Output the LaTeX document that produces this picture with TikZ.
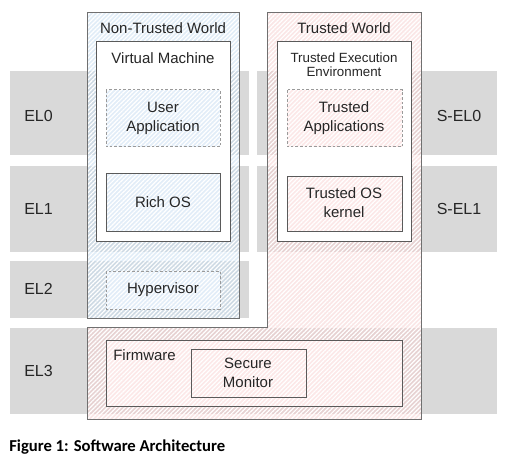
\documentclass[tikz,border=0pt]{standalone}
\usepackage{fontspec}
\setmainfont{Liberation Sans}
\newfontfamily\capfont{Carlito}
\usetikzlibrary{patterns.meta}
\definecolor{band}{HTML}{D9D9D9}
\definecolor{bluebase}{HTML}{C4DBF0}
\definecolor{bluelight}{HTML}{E2EDF8}
\definecolor{pinkbase}{HTML}{F6CDCD}
\definecolor{pinklight}{HTML}{FCE8E8}
\definecolor{edge}{HTML}{707070}
\definecolor{inneredge}{HTML}{5A5A5A}
\definecolor{dashedge}{HTML}{9A9A9A}
\begin{document}
\begin{tikzpicture}[x=0.75pt,y=-0.75pt,
  bandbox/.style={fill=band},
  hatch/.style={postaction={pattern={Lines[angle=45,distance=2.3pt,line width=0.9pt]},pattern color=white,fill opacity=0.65}},
  worldblue/.style={fill=bluebase,fill opacity=0.5,hatch},
  worldpink/.style={fill=pinkbase,fill opacity=0.5,hatch},
  worldedge/.style={draw=edge,line width=0.75pt},
  vmbox/.style={fill=white,draw=inneredge,line width=0.75pt},
  blueinner/.style={fill=bluelight,hatch},
  pinkinner/.style={fill=pinklight,hatch},
  solidedge/.style={draw=inneredge,line width=0.7pt},
  dashedge/.style={draw=dashedge,line width=0.75pt,dash pattern=on 2pt off 1.5pt},
  txt/.style={font=\fontsize{11.25}{14.25}\selectfont,align=center,inner sep=0pt,text=black!85},
  smalltxt/.style={font=\fontsize{10}{10.5}\selectfont,align=center,inner sep=0pt,text=black!85},
  eltxt/.style={font=\fontsize{12}{14}\selectfont,inner sep=0pt,text=black!85}
]
\useasboundingbox (0,0) rectangle (510,463);
% privilege level bands
\path[bandbox] (10,71) rectangle (249,155);
\path[bandbox] (257,71) rectangle (497,155);
\path[bandbox] (10,166) rectangle (249,252);
\path[bandbox] (257,166) rectangle (497,252);
\path[bandbox] (10,261) rectangle (249,318);
\path[bandbox] (10,328) rectangle (497,414);
% worlds
\path[worldblue] (87,13) rectangle (239,318);
\draw[worldedge] (87,13) rectangle (239,318);
\path[worldpink] (267,13) -- (421,13) -- (421,419) -- (87,419) -- (87,327) -- (267,327) -- cycle;
\draw[worldedge] (267,13) -- (421,13) -- (421,419) -- (87,419) -- (87,327) -- (267,327) -- cycle;
% non-trusted world contents
\path[vmbox] (96,42) rectangle (230,242);
\path[blueinner] (106,90) rectangle (220,147);
\draw[dashedge] (106,90) rectangle (220,147);
\path[blueinner] (106,173) rectangle (220,231);
\draw[solidedge] (106,173) rectangle (220,231);
\path[blueinner] (106,271) rectangle (220,309);
\draw[dashedge] (106,271) rectangle (220,309);
% trusted world contents
\path[vmbox] (277,42) rectangle (411,242);
\path[pinkinner] (287,90) rectangle (402,147);
\draw[dashedge] (287,90) rectangle (402,147);
\path[pinkinner] (287,176) rectangle (402,231);
\draw[solidedge] (287,176) rectangle (402,231);
\path[pinkinner] (106,340) rectangle (402,406);
\draw[solidedge] (106,340) rectangle (402,406);
\path[pinkinner] (191,349) rectangle (306,397);
\draw[solidedge] (191,349) rectangle (306,397);
% texts
\node[txt] (ntw) at (163,28) {Non-Trusted World};
\node[txt] (vm) at (163,58) {Virtual Machine};
\node[txt] (ua) at (163,118) {User\\Application};
\node[txt] (ros) at (163,202) {Rich OS};
\node[txt] (hyp) at (163,290) {Hypervisor};
\node[txt] (tw) at (344,28) {Trusted World};
\node[smalltxt] (tee) at (344,65) {Trusted Execution\\Environment};
\node[txt] (ta) at (344,118) {Trusted\\Applications};
\node[txt] (tos) at (344,203) {Trusted OS\\kernel};
\node[txt,anchor=west] (fw) at (113,355) {Firmware};
\node[txt] (sm) at (248,373) {Secure\\Monitor};
\node[eltxt,anchor=west] (el0) at (24,116) {EL0};
\node[eltxt,anchor=west] (el1) at (24,209) {EL1};
\node[eltxt,anchor=west] (el2) at (24,289) {EL2};
\node[eltxt,anchor=west] (el3) at (24,371) {EL3};
\node[eltxt] (sel0) at (459,116) {S-EL0};
\node[eltxt] (sel1) at (459,209) {S-EL1};
\node[font=\capfont\bfseries\fontsize{12.5}{14}\selectfont,anchor=west,inner sep=0pt] (cap) at (9,447) {Figure 1: Software Architecture};
\end{tikzpicture}
\end{document}
